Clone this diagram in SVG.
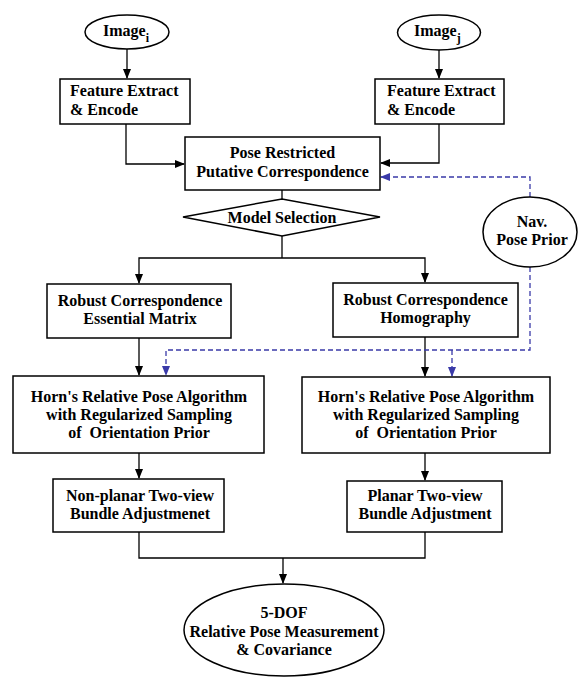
<svg xmlns="http://www.w3.org/2000/svg" width="586" height="679" viewBox="0 0 586 679">
<style>
.n{fill:#fff;stroke:#000;stroke-width:1.5}
.t{font-family:"Liberation Serif","Times New Roman",serif;font-weight:bold;font-size:16px;fill:#000}
.c{text-anchor:middle}
.e{fill:none;stroke:#000;stroke-width:1.3}
.d{fill:none;stroke:#3a3aa8;stroke-width:1.3;stroke-dasharray:5,3}
</style>
<defs>
<marker id="a" markerWidth="10" markerHeight="8" refX="9" refY="4" orient="auto" markerUnits="userSpaceOnUse"><path d="M0,0 L10,4 L0,8 z" fill="#000"/></marker>
<marker id="b" markerWidth="10" markerHeight="8" refX="9" refY="4" orient="auto" markerUnits="userSpaceOnUse"><path d="M0,0 L10,4 L0,8 z" fill="#3a3aa8"/></marker>
</defs>
<rect width="586" height="679" fill="#fff"/>
<g id="connectors">
<path class="e" d="M127,49 V78" marker-end="url(#a)"/>
<path class="e" d="M439,50 V78" marker-end="url(#a)"/>
<path class="e" d="M126,124 V164 H184" marker-end="url(#a)"/>
<path class="e" d="M439,124 V163 H381" marker-end="url(#a)"/>
<path class="e" d="M282,190 V199"/>
<path class="e" d="M282,236 V258"/>
<path class="e" d="M282,258 H139 V283" marker-end="url(#a)"/>
<path class="e" d="M282,258 H425 V282" marker-end="url(#a)"/>
<path class="e" d="M139,338 V375" marker-end="url(#a)"/>
<path class="e" d="M425,337 V376" marker-end="url(#a)"/>
<path class="d" d="M530,197 V177 H381" marker-end="url(#b)"/>
<path class="d" d="M530,267 V350 H166 V375" marker-end="url(#b)"/>
<path class="d" d="M452,350 V376" marker-end="url(#b)"/>
<path class="e" d="M139,453 V478" marker-end="url(#a)"/>
<path class="e" d="M425,453 V480" marker-end="url(#a)"/>
<path class="e" d="M139,532 V558 H425 V532"/>
<path class="e" d="M283,558 V583" marker-end="url(#a)"/>
</g>
<g id="image_i">
<ellipse class="n" cx="127" cy="32" rx="42" ry="17"/>
<text class="t" x="103" y="36" font-size="16.5">Image<tspan font-size="12" dy="6">i</tspan></text>
</g>
<g id="image_j">
<ellipse class="n" cx="439" cy="32.5" rx="41.5" ry="17.5"/>
<text class="t" x="414" y="36" font-size="16.5">Image<tspan font-size="12" dy="6">j</tspan></text>
</g>
<g id="feat_i">
<rect class="n" x="60" y="79" width="130" height="45"/>
<text class="t" x="70" y="96">Feature Extract</text>
<text class="t" x="70" y="115">&amp; Encode</text>
</g>
<g id="feat_j">
<rect class="n" x="375" y="79" width="129" height="45"/>
<text class="t" x="387" y="96">Feature Extract</text>
<text class="t" x="387" y="115">&amp; Encode</text>
</g>
<g id="putative">
<rect class="n" x="185" y="137" width="195" height="53"/>
<text class="t c" x="282.5" y="158">Pose Restricted</text>
<text class="t c" x="282.5" y="177">Putative Correspondence</text>
</g>
<g id="model_sel">
<polygon class="n" points="183,217 282,199 380,217 282,236"/>
<text class="t c" x="282" y="223">Model Selection</text>
</g>
<g id="nav">
<ellipse class="n" cx="530" cy="232" rx="47" ry="35"/>
<text class="t c" x="532" y="227">Nav.</text>
<text class="t c" x="532" y="245">Pose Prior</text>
</g>
<g id="robust_e">
<rect class="n" x="47" y="284" width="184" height="54"/>
<text class="t c" x="140" y="306">Robust Correspondence</text>
<text class="t c" x="140" y="324">Essential Matrix</text>
</g>
<g id="robust_h">
<rect class="n" x="333" y="283" width="185" height="54"/>
<text class="t c" x="425.5" y="305">Robust Correspondence</text>
<text class="t c" x="425.5" y="323">Homography</text>
</g>
<g id="horn_l">
<rect class="n" x="13" y="376" width="251" height="77"/>
<text class="t c" x="139" y="402">Horn's Relative Pose Algorithm</text>
<text class="t c" x="139" y="420">with Regularized Sampling</text>
<text class="t c" x="139" y="438" xml:space="preserve">of  Orientation Prior</text>
</g>
<g id="horn_r">
<rect class="n" x="302" y="377" width="248" height="76"/>
<text class="t c" x="426" y="402">Horn's Relative Pose Algorithm</text>
<text class="t c" x="426" y="420">with Regularized Sampling</text>
<text class="t c" x="426" y="438" xml:space="preserve">of  Orientation Prior</text>
</g>
<g id="ba_np">
<rect class="n" x="53" y="479" width="171" height="53"/>
<text class="t c" x="140" y="501">Non-planar Two-view</text>
<text class="t c" x="140" y="519">Bundle Adjustmenet</text>
</g>
<g id="ba_p">
<rect class="n" x="347" y="481" width="155" height="51"/>
<text class="t c" x="425" y="501">Planar Two-view</text>
<text class="t c" x="425" y="519">Bundle Adjustment</text>
</g>
<g id="result">
<ellipse class="n" cx="284" cy="630" rx="100" ry="46"/>
<text class="t c" x="284" y="618">5-DOF</text>
<text class="t c" x="284" y="637">Relative Pose Measurement</text>
<text class="t c" x="284" y="655">&amp; Covariance</text>
</g>
</svg>
